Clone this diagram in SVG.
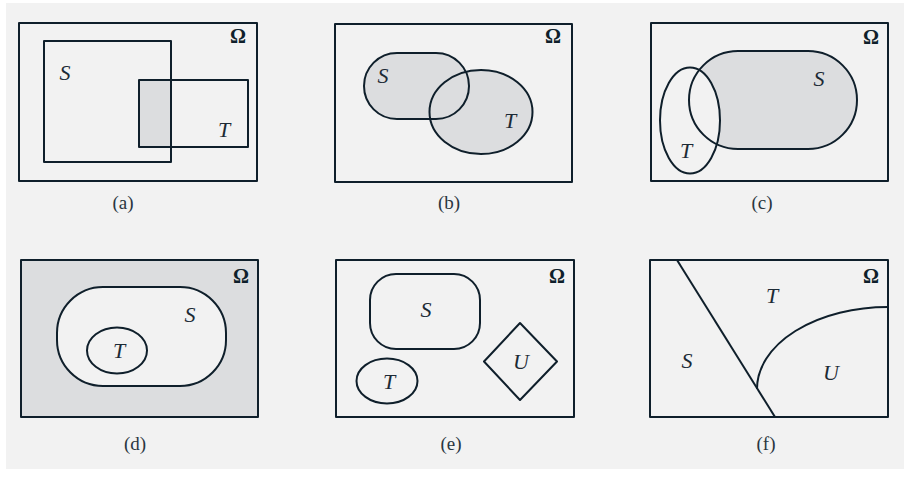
<svg xmlns="http://www.w3.org/2000/svg" width="904" height="479" viewBox="0 0 904 479">
<style>
.ln{fill:none;stroke:#0f1f2b;stroke-width:2;stroke-linejoin:round}
.sh{fill:#dcdddf}
.bg{fill:#f2f2f2}
.lab{font-family:"Liberation Serif","Times New Roman",serif;font-style:italic;font-size:22px;fill:#1c2a35;text-anchor:middle}
.om{font-family:"Liberation Serif","Times New Roman",serif;font-weight:bold;font-size:20px;fill:#0f1f2b;text-anchor:middle}
.cap{font-family:"Liberation Serif","Times New Roman",serif;font-size:19px;fill:#2a3640;text-anchor:middle}
</style>
<rect x="0" y="0" width="904" height="479" fill="#ffffff"/>
<rect x="6" y="3" width="898" height="466" fill="#f2f2f2"/>

<g id="panel-a">
<rect class="sh" x="139" y="80" width="32" height="67"/>
<rect class="ln" x="19" y="23" width="238" height="158"/>
<rect class="ln" x="44" y="41" width="127" height="121"/>
<rect class="ln" x="139" y="80" width="109" height="67"/>
<text class="lab" x="65" y="80">S</text>
<text class="lab" x="224" y="137">T</text>
<text class="om" x="238" y="43">Ω</text>
<text class="cap" x="123" y="209">(a)</text>
</g>

<g id="panel-b">
<rect class="ln" x="335" y="24" width="237" height="158"/>
<rect class="sh" x="364" y="53" width="105" height="66" rx="33"/>
<ellipse class="sh" cx="481" cy="112" rx="51.5" ry="42"/>
<rect class="ln" x="364" y="53" width="105" height="66" rx="33"/>
<ellipse class="ln" cx="481" cy="112" rx="51.5" ry="42"/>
<text class="lab" x="383" y="83">S</text>
<text class="lab" x="510" y="128">T</text>
<text class="om" x="553" y="43">Ω</text>
<text class="cap" x="449" y="209">(b)</text>
</g>

<g id="panel-c">
<rect class="ln" x="651" y="23" width="237" height="158"/>
<rect class="sh" x="689" y="51" width="168" height="98" rx="49"/>
<ellipse class="bg" cx="690" cy="120.5" rx="30" ry="53"/>
<rect class="ln" x="689" y="51" width="168" height="98" rx="49"/>
<ellipse class="ln" cx="690" cy="120.5" rx="30" ry="53"/>
<text class="lab" x="819" y="86">S</text>
<text class="lab" x="686" y="158">T</text>
<text class="om" x="871" y="44">Ω</text>
<text class="cap" x="762" y="209">(c)</text>
</g>

<g id="panel-d">
<rect class="sh" x="21" y="260" width="237" height="157"/>
<rect class="ln" x="21" y="260" width="237" height="157"/>
<rect class="bg" x="57" y="287" width="169" height="99" rx="46"/>
<rect class="ln" x="57" y="287" width="169" height="99" rx="46"/>
<ellipse class="ln" cx="117" cy="350.5" rx="30" ry="23"/>
<text class="lab" x="190" y="322">S</text>
<text class="lab" x="119" y="358">T</text>
<text class="om" x="241" y="283">Ω</text>
<text class="cap" x="135" y="450">(d)</text>
</g>

<g id="panel-e">
<rect class="ln" x="336" y="260" width="238" height="157"/>
<rect class="ln" x="370" y="274" width="110" height="75" rx="26"/>
<ellipse class="ln" cx="387" cy="381" rx="30.5" ry="22.5"/>
<polygon class="ln" points="520,323 557,361.5 520,400 484,361.5"/>
<text class="lab" x="426" y="317">S</text>
<text class="lab" x="389" y="389">T</text>
<text class="lab" x="521" y="369">U</text>
<text class="om" x="557" y="283">Ω</text>
<text class="cap" x="451" y="450">(e)</text>
</g>

<g id="panel-f">
<rect class="ln" x="650" y="260" width="238" height="157"/>
<line class="ln" x1="677" y1="260" x2="775" y2="417"/>
<path class="ln" d="M757,389 A131,82 0 0 1 888,307"/>
<text class="lab" x="687" y="368">S</text>
<text class="lab" x="772" y="303">T</text>
<text class="lab" x="831" y="380">U</text>
<text class="om" x="871" y="283">Ω</text>
<text class="cap" x="766" y="450">(f)</text>
</g>
</svg>
